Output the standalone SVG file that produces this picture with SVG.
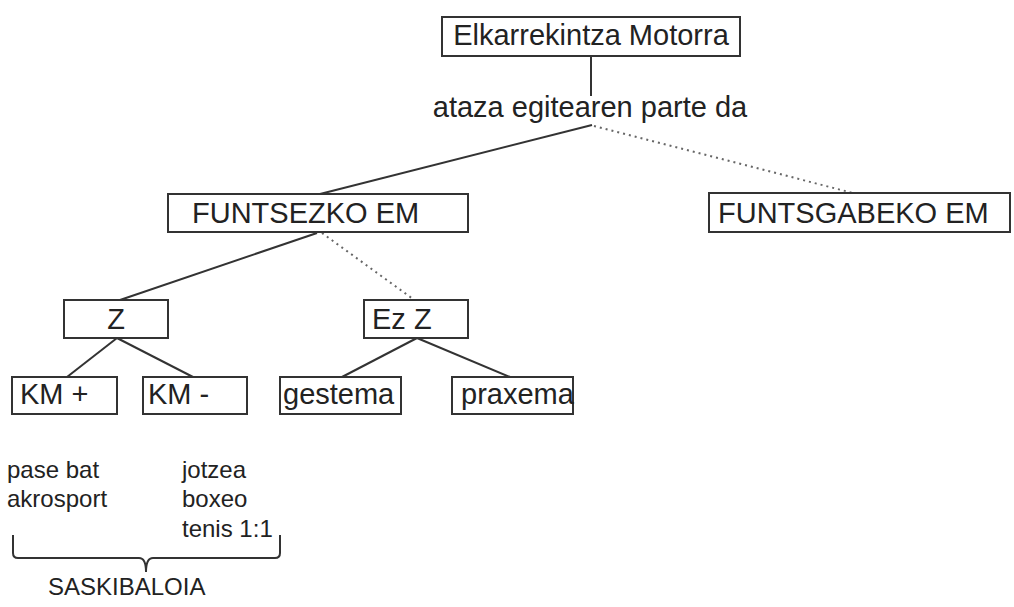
<svg xmlns="http://www.w3.org/2000/svg" width="1014" height="607" viewBox="0 0 1014 607">
<style>
.box{fill:#fff;stroke:#333;stroke-width:2}
.t{font-family:"Liberation Sans",Arial,sans-serif;font-size:29px;fill:#222}
.s{font-family:"Liberation Sans",Arial,sans-serif;font-size:24px;fill:#222}
.ln{stroke:#333;stroke-width:2;fill:none}
.dt{stroke:#666;stroke-width:2;fill:none;stroke-dasharray:2 4}
</style>
<rect width="1014" height="607" fill="#fff"/>
<g id="connectors">
<line class="ln" x1="591" y1="56" x2="591" y2="96"/>
<line class="ln" x1="592" y1="125" x2="320" y2="194"/>
<line class="dt" x1="594" y1="126" x2="853" y2="193"/>
<line class="ln" x1="317" y1="233" x2="120" y2="300"/>
<line class="dt" x1="322" y1="233" x2="413" y2="299"/>
<line class="ln" x1="117" y1="338" x2="67" y2="377"/>
<line class="ln" x1="117" y1="338" x2="193" y2="377"/>
<line class="ln" x1="417" y1="338" x2="342" y2="377"/>
<line class="ln" x1="417" y1="338" x2="510" y2="377"/>
</g>
<g id="n-top"><rect class="box" x="442" y="17" width="298" height="39"/><text class="t" x="591" y="45" text-anchor="middle">Elkarrekintza Motorra</text></g>
<g id="label-ataza"><text class="t" x="590" y="117" text-anchor="middle">ataza egitearen parte da</text></g>
<g id="n-funtsezko"><rect class="box" x="168" y="194" width="300" height="38"/><text class="t" x="192" y="223">FUNTSEZKO EM</text></g>
<g id="n-funtsgabeko"><rect class="box" x="709" y="193" width="301" height="39"/><text class="t" x="718" y="223">FUNTSGABEKO EM</text></g>
<g id="n-z"><rect class="box" x="64" y="300" width="104" height="38"/><text class="t" x="116" y="329" text-anchor="middle">Z</text></g>
<g id="n-ezz"><rect class="box" x="364" y="300" width="104" height="38"/><text class="t" x="372" y="329">Ez Z</text></g>
<g id="n-kmplus"><rect class="box" x="12" y="377" width="105" height="37"/><text class="t" x="20" y="404">KM +</text></g>
<g id="n-kmminus"><rect class="box" x="143" y="377" width="104" height="37"/><text class="t" x="148" y="404">KM -</text></g>
<g id="n-gestema"><rect class="box" x="280" y="377" width="121" height="37"/><text class="t" x="283" y="404">gestema</text></g>
<g id="n-praxema"><rect class="box" x="452" y="377" width="121" height="37"/><text class="t" x="461" y="404">praxema</text></g>
<g id="examples">
<text class="s" x="7" y="478">pase bat</text>
<text class="s" x="7" y="507">akrosport</text>
<text class="s" x="182" y="478">jotzea</text>
<text class="s" x="182" y="507">boxeo</text>
<text class="s" x="182" y="537">tenis 1:1</text>
<path class="ln" d="M13,535 L13,553 Q13,558 18,558 L139,558 Q146,558 146,572 Q146,558 153,558 L275,558 Q280,558 280,553 L280,535"/>
<text class="s" x="48" y="595">SASKIBALOIA</text>
</g>
</svg>
